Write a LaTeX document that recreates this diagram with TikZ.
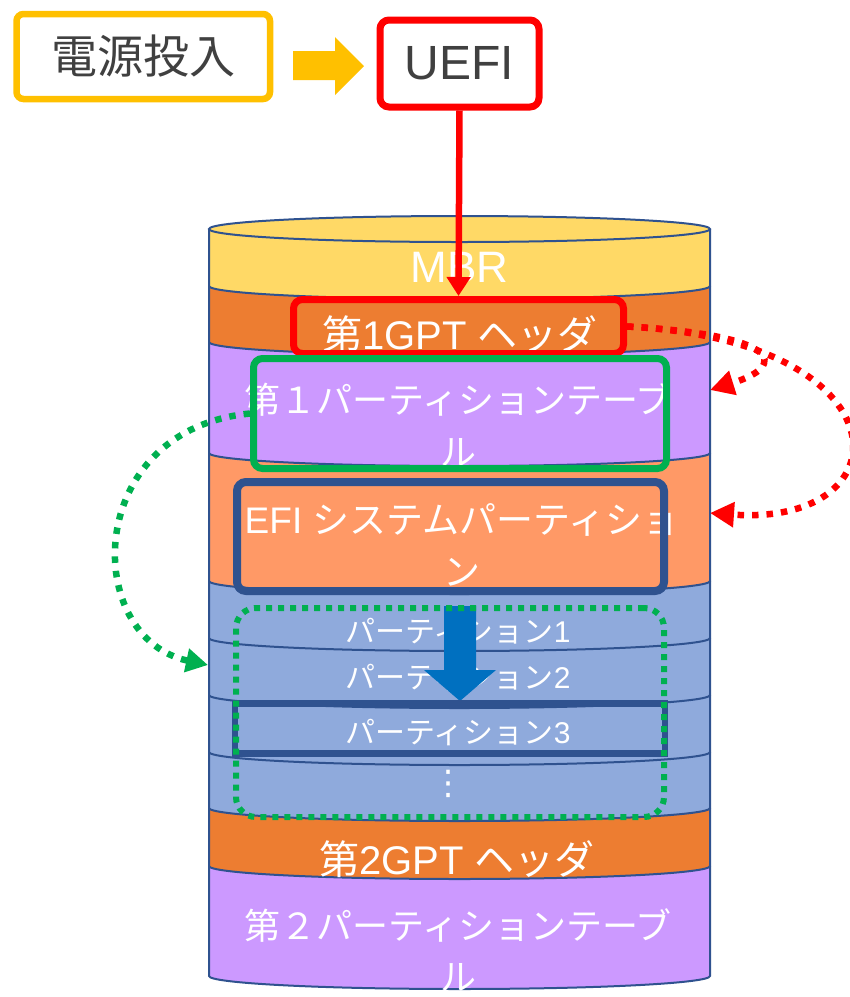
\documentclass[tikz,border=0pt]{standalone}
\usepackage{fontspec}
\setmainfont{Liberation Sans}
\newfontfamily\cjk{Noto Sans CJK JP}
\newfontfamily\dvs{DejaVu Sans}
\usetikzlibrary{arrows.meta}
\definecolor{boxyellow}{HTML}{FFC000}
\definecolor{mbrc}{HTML}{FFD966}
\definecolor{gptc}{HTML}{ED7D31}
\definecolor{ptc}{HTML}{CC99FF}
\definecolor{efic}{HTML}{FF9966}
\definecolor{partc}{HTML}{8FAADC}
\definecolor{navy}{HTML}{2F528F}
\definecolor{darkt}{HTML}{404040}
\definecolor{bluearrow}{HTML}{0070C0}
\definecolor{grn}{HTML}{00B050}
\newcommand\bandshape[3]{%
  \fill[#3] (209,#1) -- (209,#2) arc[start angle=180,end angle=0,x radius=250.5,y radius=13] -- (710,#1) arc[start angle=0,end angle=180,x radius=250.5,y radius=13] -- cycle;
  \draw[bandline] (209,#1) -- (209,#2) arc[start angle=180,end angle=0,x radius=250.5,y radius=13] -- (710,#1);
}
\begin{document}
\begin{tikzpicture}[x=1pt,y=-1pt,
  bandline/.style={draw=navy,line width=2pt},
  bandtext/.style={text=white,inner sep=0pt,align=center},
  hibox/.style={line width=7pt,rounded corners=9pt,inner sep=0pt},
  reddots/.style={draw=red,line width=6.5pt,dash pattern=on 6.5pt off 8pt,-{Triangle[length=24pt,width=24pt]}},
  grndots/.style={draw=grn,line width=6.5pt,dash pattern=on 6.5pt off 8pt,-{Triangle[length=22pt,width=23pt]}}]
\useasboundingbox (0,0) rectangle (850,997);
% top boxes
\node[draw=boxyellow,line width=6.5pt,rounded corners=7pt,minimum width=253.5pt,minimum height=85pt,inner sep=0pt,text=darkt,font=\cjk\fontsize{46}{50}\selectfont] (power) at (143.25,56.5) {電源投入};
\node[draw=red,line width=7pt,rounded corners=9pt,minimum width=159pt,minimum height=87pt,inner sep=0pt,text=darkt,font=\fontsize{48}{52}\selectfont] (uefi) at (459.5,63.5) {UEFI};
\fill[boxyellow] (293,51) -- (335,51) -- (335,37) -- (364,66) -- (335,95) -- (335,80) -- (293,80) -- cycle;
% cylinder bands, bottom to top
\bandshape{866}{976}{ptc}
\bandshape{808}{866}{gptc}
\bandshape{752}{808}{partc}
\bandshape{695}{752}{partc}
\bandshape{638}{695}{partc}
\bandshape{581}{638}{partc}
\bandshape{453}{581}{efic}
\bandshape{342}{453}{ptc}
\bandshape{286}{342}{gptc}
\bandshape{229}{286}{mbrc}
\draw[bandline,fill=mbrc] (459.5,229) ellipse [x radius=250.5,y radius=13];
% band texts
\node[bandtext,anchor=base,font=\fontsize{44}{50}\selectfont] (tmbr) at (459.5,282) {MBR};
\node[bandtext,anchor=base,font=\fontsize{40}{48}\selectfont] (tgpta) at (460,349) {{\cjk 第}1GPT {\cjk ヘッダ}};
\node[bandtext,font=\cjk\fontsize{36}{52}\selectfont] (tpta) at (458,424) {第１パーティションテーブ\\ル};
\node[bandtext,font=\fontsize{37}{52}\selectfont] (tefi) at (462,545) {EFI {\cjk システムパーティショ}\\{\cjk ン}};
\node[bandtext,anchor=base,font=\fontsize{30}{36}\selectfont] (tpa) at (458,642) {{\cjk パーティション}1};
\node[bandtext,anchor=base,font=\fontsize{30}{36}\selectfont] (tpb) at (458,688) {{\cjk パーティション}2};
\node[bandtext,anchor=base,font=\fontsize{30}{36}\selectfont] (tpc) at (458,743) {{\cjk パーティション}3};
\node[bandtext,font=\dvs\fontsize{34}{40}\selectfont] (tdots) at (448,784) {⋮};
\node[bandtext,anchor=base,font=\fontsize{40}{48}\selectfont] (tgptb) at (457,874) {{\cjk 第}2GPT {\cjk ヘッダ}};
\node[bandtext,font=\cjk\fontsize{36}{51}\selectfont] (tptb) at (458,949.5) {第２パーティションテーブ\\ル};
% highlight boxes
\node[hibox,draw=red,minimum width=330pt,minimum height=54pt] (gptabox) at (458.5,326.5) {};
\node[hibox,draw=grn,minimum width=413pt,minimum height=110pt] (ptabox) at (460,413.5) {};
\node[hibox,draw=navy,line width=8pt,minimum width=427pt,minimum height=109pt] (efibox) at (450.5,536.5) {};
\fill[bluearrow] (444,606) -- (476,606) -- (476,670) -- (496,670) -- (460,701) -- (424,670) -- (444,670) -- cycle;
\node[draw=navy,line width=6.5pt,minimum width=430pt,minimum height=50pt,inner sep=0pt] (pcbox) at (450,728.5) {};
\node[draw=grn,line width=6pt,dash pattern=on 6pt off 6pt,rounded corners=20pt,minimum width=428pt,minimum height=209pt,inner sep=0pt] (partsbox) at (450,712.5) {};
% connectors
\coordinate (ptaedge) at (710,390);
\coordinate (efiedge) at (710,513);
\coordinate (pbedge) at (208,665);
\draw[draw=red,line width=6.5pt,-{Triangle[length=19pt,width=23pt]}] (uefi.south) -- (gptabox.north);
\draw[reddots] (gptabox.east) .. controls (908,340) and (908,527) .. (efiedge);
\draw[reddots] (gptabox.east) .. controls (780,335) and (790,365) .. (ptaedge);
\draw[grndots] (ptabox.west) .. controls (82,430) and (82,638) .. (pbedge);
\end{tikzpicture}
\end{document}
